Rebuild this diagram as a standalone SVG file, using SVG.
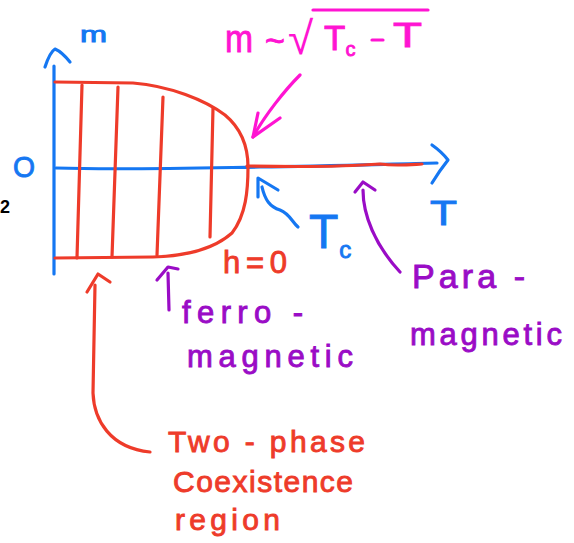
<svg xmlns="http://www.w3.org/2000/svg" width="574" height="543" viewBox="0 0 574 543">
  <style>
    .ln { fill: none; stroke-width: 3.2; stroke-linecap: round; stroke-linejoin: round; }
    .blue { stroke: #1577f2; }
    .red { stroke: #ee3b2a; }
    .pink { stroke: #ff14d2; }
    .purp { stroke: #9a0cc6; }
    text { font-family: "Liberation Sans", "DejaVu Sans", sans-serif; }
    .tb { fill: #1577f2; }
    .tr { fill: #ee3b2a; }
    .tp { fill: #ff14d2; }
    .tu { fill: #9a0cc6; }
    .th { stroke-width: 0.9; }
  </style>
  <rect width="574" height="543" fill="#ffffff"/>

  <g id="axes">
    <path class="ln blue" d="M54,66 L54,274"/>
    <path class="ln blue" d="M45,67 Q50,52 55,49 Q62,52 70,62"/>
    <path class="ln blue" d="M56,168 C120,170 200,168 260,167 C330,166 390,164 437,163"/>
    <path class="ln blue" d="M432,145 Q442,152 448,160 Q440,170 432,183"/>
  </g>

  <g id="region">
    <path class="ln red" d="M55,82 L133,83 C170,86 205,100 225,115 C243,130 248,148 248,167 C248,190 246,215 232,233 C215,248 190,256 153,257 L55,258"/>
    <path class="ln red" d="M82,85 L77,258"/>
    <path class="ln red" d="M118,87 L112,257"/>
    <path class="ln red" d="M163,97 L157,255"/>
    <path class="ln red" d="M213,108 L210,237"/>
    <path class="ln red" d="M247,166 C300,167 340,167 380,164 C395,166 405,165 422,164"/>
  </g>

  <g id="labels">
    <text x="0" y="213" font-size="18" font-weight="bold" fill="#000">2</text>
    <text class="tb th" stroke="#1577f2" x="13" y="177" font-size="30" textLength="22" lengthAdjust="spacingAndGlyphs">O</text>
    <text class="tb th" stroke="#1577f2" x="80" y="42" font-size="22" textLength="27" lengthAdjust="spacingAndGlyphs">m</text>
    <text class="tb th" stroke="#1577f2" x="430" y="225" font-size="35" textLength="27" lengthAdjust="spacingAndGlyphs">T</text>
    <text class="tb th" stroke="#1577f2" x="309" y="248" font-size="48">T<tspan font-size="24" dx="1" dy="10">c</tspan></text>
    <text class="tr th" stroke="#ee3b2a" x="223" y="273" font-size="31" textLength="64" lengthAdjust="spacing">h=0</text>
  </g>

  <g id="formula">
    <text class="tp th" stroke="#ff14d2" x="225" y="52" font-size="38" textLength="28" lengthAdjust="spacingAndGlyphs">m</text>
    <text class="tp th" stroke="#ff14d2" x="265" y="52" font-size="34">~</text>
    <text class="tp" x="288" y="54" font-size="46" font-family="DejaVu Sans, sans-serif">√</text>
    <path class="ln pink" d="M313,10 L428,10"/>
    <text class="tp th" stroke="#ff14d2" x="324" y="50" font-size="35">T<tspan font-size="20" dy="6">c</tspan></text>
    <path class="ln pink" d="M372,40 L383,40"/>
    <text class="tp th" stroke="#ff14d2" x="393" y="47" font-size="35" textLength="29" lengthAdjust="spacingAndGlyphs">T</text>
  </g>

  <g id="ferro-label">
    <text class="tu th" stroke="#9a0cc6" x="182" y="323" font-size="31" textLength="121" lengthAdjust="spacing">ferro -</text>
    <text class="tu th" stroke="#9a0cc6" x="187" y="367" font-size="31" textLength="166" lengthAdjust="spacing">magnetic</text>
  </g>

  <g id="para-label">
    <text class="tu th" stroke="#9a0cc6" x="412" y="288" font-size="34" textLength="113" lengthAdjust="spacing">Para -</text>
    <text class="tu th" stroke="#9a0cc6" x="410" y="345" font-size="31" textLength="152" lengthAdjust="spacing">magnetic</text>
  </g>

  <g id="coexistence-label">
    <text class="tr th" stroke="#ee3b2a" x="168" y="452" font-size="30" textLength="197" lengthAdjust="spacing">Two - phase</text>
    <text class="tr th" stroke="#ee3b2a" x="173" y="492" font-size="30" textLength="180" lengthAdjust="spacing">Coexistence</text>
    <text class="tr th" stroke="#ee3b2a" x="175" y="530" font-size="30" textLength="105" lengthAdjust="spacing">region</text>
  </g>

  <g id="connectors">
    <path class="ln pink" d="M300,75 C285,90 265,115 253,137"/>
    <path class="ln pink" d="M258,113 L253,137 L280,118"/>
    <path class="ln blue" d="M262,187 C265,200 270,207 280,210 C290,214 292,222 298,227"/>
    <path class="ln blue" d="M258,197 L258,178 L278,190"/>
    <path class="ln purp" d="M363,190 C363,215 375,245 400,272"/>
    <path class="ln purp" d="M355,192 L363,182 L375,190"/>
    <path class="ln purp" d="M168,273 L169,310"/>
    <path class="ln purp" d="M157,280 L168,267 L178,269"/>
    <path class="ln red" d="M95,285 L93,393 C94,420 110,448 150,452"/>
    <path class="ln red" d="M87,292 L98,274 L110,282"/>
  </g>
</svg>
